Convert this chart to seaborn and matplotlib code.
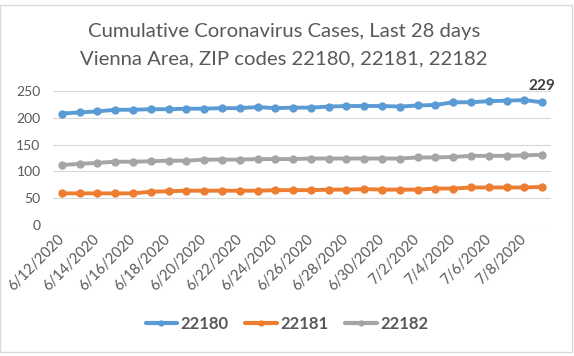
import pandas as pd
import numpy as np
import matplotlib.pyplot as plt
from matplotlib.patches import Rectangle
from matplotlib.lines import Line2D
import seaborn as sns

# %% data
dates = pd.date_range("2020-06-12", "2020-07-09", freq="D")
cases_22180 = [208, 210, 212, 215, 215, 216, 216, 217, 217, 218, 218, 220, 218, 219,
               219, 221, 222, 222, 222, 221, 223, 224, 229, 229, 231, 232, 233, 229]
cases_22181 = [59, 59, 59, 59, 59, 62, 63, 64, 64, 64, 64, 64, 65, 65,
               65, 66, 66, 67, 66, 66, 66, 68, 68, 70, 70, 70, 70, 71]
cases_22182 = [112, 114, 116, 118, 118, 119, 120, 120, 122, 122, 122, 123, 123, 123,
               124, 124, 124, 124, 124, 124, 126, 126, 127, 129, 129, 129, 130, 131]
zips = ["22180", "22181", "22182"]

colors = {"22180": "#5B9BD5", "22181": "#ED7D31", "22182": "#A5A5A5"}
txt = "#595959"

df = pd.DataFrame({"date": dates, "22180": cases_22180,
                   "22181": cases_22181, "22182": cases_22182})
df_long = df.melt(id_vars="date", value_vars=zips, var_name="zip", value_name="cases")

# %%
sns.set_style("white")
plt.rcParams["font.family"] = ["Lato", "DejaVu Sans"]

fig = plt.figure(figsize=(5.74, 3.56), dpi=100)
ax = fig.add_axes([53 / 574, 1 - 225 / 356, (551 - 53) / 574, (225 - 91) / 356])

sns.lineplot(data=df_long, x="date", y="cases", hue="zip", palette=colors,
             marker="o", markersize=6, markeredgewidth=0, linewidth=2.8,
             legend=False, ax=ax)

ax.set_ylim(0, 250)
ax.set_yticks(range(0, 251, 50))
ax.set_xlim(dates[0] - pd.Timedelta(hours=12), dates[-1] + pd.Timedelta(hours=12))
tick_dates = dates[::2]
ax.set_xticks(tick_dates, [f"{d.month}/{d.day}/{d.year}" for d in tick_dates])
ax.grid(axis="y", color="#D9D9D9", linewidth=0.8)
ax.grid(axis="x", visible=False)
sns.despine(ax=ax, left=True, bottom=True)
ax.set_xlabel("")
ax.set_ylabel("")
ax.tick_params(axis="y", length=0, pad=9, labelsize=10, labelcolor=txt)
ax.tick_params(axis="x", length=0, pad=9, labelsize=10.5, labelcolor=txt)
for lab in ax.get_xticklabels():
    lab.set_rotation(45)
    lab.set_ha("right")
    lab.set_va("center")
    lab.set_rotation_mode("anchor")

ax.annotate(str(cases_22180[-1]), (dates[-1], cases_22180[-1]), xytext=(0, 7),
            textcoords="offset points", ha="center", va="bottom",
            fontsize=11, fontweight="bold", color="#404040")

fig.text(0.495, 1 - 32 / 356, "Cumulative Coronavirus Cases, Last 28 days",
         ha="center", va="center", fontsize=14.6, color=txt)
fig.text(0.495, 1 - 59 / 356, "Vienna Area, ZIP codes 22180, 22181, 22182",
         ha="center", va="center", fontsize=14.6, color=txt)

handles = [Line2D([], [], color=colors[z], marker="o", markersize=4.5,
                  markeredgewidth=0, linewidth=3) for z in zips]
leg = fig.legend(handles, zips, loc="center", bbox_to_anchor=(0.5, 1 - 324 / 356),
                 ncol=3, frameon=False, handlelength=1.9, handletextpad=0.2,
                 columnspacing=1.0, prop={"size": 12, "weight": "bold"})
for t in leg.get_texts():
    t.set_color(txt)

# chart area border like the spreadsheet frame
fig.add_artist(Rectangle((0, 4 / 356), 572 / 574, 347 / 356, transform=fig.transFigure,
                         fill=False, edgecolor="#D9D9D9", linewidth=1))

fig.savefig("out.png", dpi=100)
